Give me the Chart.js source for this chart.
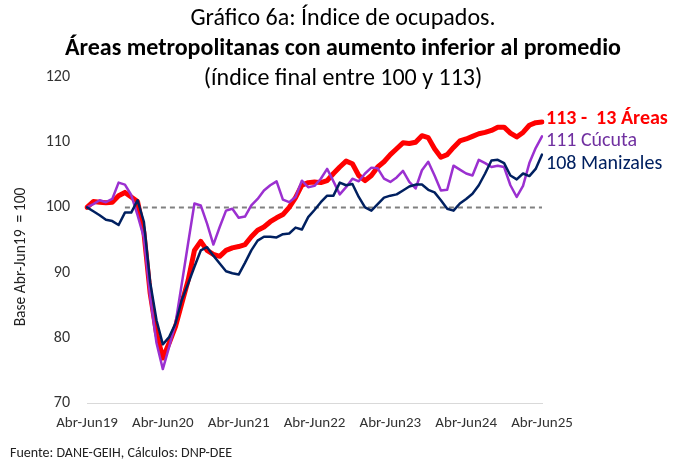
<!DOCTYPE html>
<html lang="es">
<head>
<meta charset="utf-8">
<title>Gráfico 6a: Índice de ocupados</title>
<script src="https://cdn.jsdelivr.net/npm/chart.js@4.4.1/dist/chart.umd.min.js"></script>
<style>
    html, body { margin: 0; padding: 0; background: #fff; }
    #wrap { position: relative; width: 674px; height: 464px; overflow: hidden;
            font-family: Carlito, Calibri, Lato, sans-serif; color: #000; }
    #chart { position: absolute; left: 0; top: 0; }
    .titulo { position: absolute; left: 0; width: 686px; text-align: center;
              font-size: 24px; line-height: 28px; white-space: nowrap; }
    .negrita { font-weight: bold; }
    #ejeY { position: absolute; left: 20px; top: 257px; width: 200px; margin-left: -100px;
            margin-top: -10px; line-height: 20px; text-align: center; font-size: 15.5px;
            color: #222; white-space: pre; transform: rotate(-90deg); }
    #fuente { position: absolute; left: 10px; top: 444px; font-size: 14px; line-height: 18px; color: #222; }
</style>
</head>
<body>
<div id="wrap">
    <canvas id="chart" width="674" height="464"></canvas>
    <div class="titulo" style="top:3px">Gráfico 6a: Índice de ocupados.</div>
    <div class="titulo negrita" style="top:33px">Áreas metropolitanas con aumento inferior al promedio</div>
    <div class="titulo" style="top:63px">(índice final entre 100 y 113)</div>
    <div id="ejeY">Base Abr-Jun19  = 100</div>
    <div id="fuente">Fuente: DANE-GEIH, Cálculos: DNP-DEE</div>
</div>
<script>
// Trimestres móviles Abr-Jun19 ... Abr-Jun25
const meses = ['Ene', 'Feb', 'Mar', 'Abr', 'May', 'Jun', 'Jul', 'Ago', 'Sep', 'Oct', 'Nov', 'Dic'];
const etiquetas = [];
for (let i = 0; i <= 72; i++) {
    const ini = 3 + i, fin = ini + 2;
    etiquetas.push(meses[ini % 12] + '-' + meses[fin % 12] + (19 + Math.floor(fin / 12)));
}
const ticksX = ['Abr-Jun19', 'Abr-Jun20', 'Abr-Jun21', 'Abr-Jun22', 'Abr-Jun23', 'Abr-Jun24', 'Abr-Jun25'];
const ticksY = [70, 80, 90, 100, 110, 120];

// Series (base Abr-Jun19 = 100)
const trece = [
    100, 100.9, 100.8, 100.7, 100.8, 101.8, 102.3, 101.6, 100.9, 96.2, 86.8, 80.7,
    76.9, 79.2, 81.7, 85.3, 88.8, 93.4, 94.8, 93.4, 92.8, 92.5, 93.4, 93.8,
    94.0, 94.3, 95.5, 96.5, 97.0, 97.8, 98.4, 98.9, 100.0, 101.5, 103.4, 103.8,
    103.9, 103.8, 104.1, 105.2, 106.2, 107.1, 106.7, 104.9, 104.1, 104.9, 106.2, 107.0,
    108.1, 109.0, 109.9, 109.8, 110.0, 111.0, 110.7, 109.0, 107.7, 108.1, 109.2, 110.2,
    110.5, 110.9, 111.3, 111.5, 111.8, 112.3, 112.3, 111.4, 110.8, 111.5, 112.6, 113.0,
    113.1
];
const cucuta = [
    100, 100.5, 101.1, 100.8, 101.3, 103.8, 103.5, 101.9, 98.8, 95.4, 86.2, 79.2,
    75.2, 78.6, 82.2, 88.3, 94.5, 100.6, 100.3, 97.5, 94.3, 97.0, 99.5, 99.8,
    98.4, 98.6, 100.3, 101.3, 102.6, 103.4, 104.0, 101.2, 100.8, 101.6, 104.1, 103.1,
    103.3, 104.4, 105.9, 104.0, 102.0, 103.1, 104.4, 104.0, 105.2, 106.1, 106.0, 104.4,
    103.9, 104.6, 105.6, 103.9, 102.9, 105.7, 107.0, 104.9, 102.6, 102.7, 106.4, 105.8,
    105.2, 104.9, 107.3, 106.8, 106.2, 106.4, 106.2, 103.4, 101.6, 103.3, 106.8, 109.1,
    110.9
];
const manizales = [
    100, 99.4, 98.8, 98.1, 97.9, 97.3, 99.2, 99.2, 101.1, 97.8, 88.5, 82.7,
    79.0, 80.1, 82.2, 85.8, 88.3, 90.9, 93.4, 93.9, 92.6, 91.4, 90.2, 89.9,
    89.7, 91.5, 93.4, 94.9, 95.5, 95.5, 95.4, 95.9, 96.0, 96.9, 96.6, 98.5,
    99.6, 100.8, 101.8, 101.8, 103.8, 103.4, 103.6, 101.6, 100.0, 99.5, 100.5, 101.5,
    101.8, 102.0, 102.6, 103.2, 103.5, 103.5, 102.7, 102.3, 101.1, 99.8, 99.5, 100.6,
    101.3, 102.1, 103.4, 105.2, 107.2, 107.3, 106.8, 104.9, 104.3, 105.2, 104.8, 105.9,
    108.1
];
const rotulos = ['108 Manizales', '111 Cúcuta', '113 -  13 Áreas'];
const lineaBase = { valor: 100, desde: 'Oct-Dic19', hasta: 'Abr-Jun25' };

const FUENTE = 'Carlito, Calibri, Lato, sans-serif';

// línea punteada de referencia, por debajo de las series
const referencia = {
    id: 'referencia',
    beforeDatasetsDraw(chart) {
        const { ctx, scales: { x, y } } = chart;
        const py = y.getPixelForValue(lineaBase.valor);
        ctx.save();
        ctx.strokeStyle = '#808080';
        ctx.lineWidth = 2;
        ctx.setLineDash([5, 4]);
        ctx.beginPath();
        ctx.moveTo(x.getPixelForValue(etiquetas.indexOf(lineaBase.desde)), py);
        ctx.lineTo(x.getPixelForValue(etiquetas.indexOf(lineaBase.hasta)), py);
        ctx.stroke();
        ctx.restore();
    }
};

// rótulos al final de cada serie
const rotulosFinales = {
    id: 'rotulosFinales',
    afterDatasetsDraw(chart) {
        const ctx = chart.ctx;
        chart.data.datasets.forEach((ds, i) => {
            const meta = chart.getDatasetMeta(i);
            const p = meta.data[meta.data.length - 1];
            ctx.save();
            ctx.font = ds.rotuloFuente;
            ctx.fillStyle = ds.rotuloColor;
            ctx.textBaseline = 'middle';
            ctx.fillText(ds.rotulo, p.x + 4, p.y + ds.rotuloDy);
            ctx.restore();
        });
    }
};

new Chart(document.getElementById('chart'), {
    type: 'line',
    data: {
        labels: etiquetas,
        datasets: [
            {
                label: rotulos[0], data: manizales,
                borderColor: '#002060', borderWidth: 2.5,
                rotulo: rotulos[0], rotuloColor: '#002060', rotuloDy: 9,
                rotuloFuente: '20px ' + FUENTE
            },
            {
                label: rotulos[1], data: cucuta,
                borderColor: '#9B30D0', borderWidth: 2.5,
                rotulo: rotulos[1], rotuloColor: '#7030A0', rotuloDy: 5,
                rotuloFuente: '20px ' + FUENTE
            },
            {
                label: rotulos[2], data: trece,
                borderColor: '#FF0000', borderWidth: 5,
                rotulo: rotulos[2], rotuloColor: '#FF0000', rotuloDy: -3,
                rotuloFuente: 'bold 20px ' + FUENTE
            }
        ]
    },
    options: {
        responsive: false,
        animation: false,
        layout: { padding: { left: 0, top: 77, right: 132, bottom: 21 } },
        elements: {
            point: { radius: 0 },
            line: { tension: 0, borderCapStyle: 'round', borderJoinStyle: 'round' }
        },
        plugins: {
            legend: { display: false },
            tooltip: { enabled: false }
        },
        scales: {
            x: {
                grid: { display: false, drawTicks: false },
                border: { display: true, color: '#d9d9d9', width: 1 },
                afterFit: (s) => { s.height = 40; },
                ticks: {
                    autoSkip: false, maxRotation: 0, minRotation: 0, padding: 11,
                    color: '#333', font: { family: FUENTE, size: 15 },
                    callback: function (v) {
                        const l = this.getLabelForValue(v);
                        return ticksX.includes(l) ? l : null;
                    }
                }
            },
            y: {
                min: 70, max: 120,
                grid: { display: false, drawTicks: false },
                border: { display: false },
                afterFit: (s) => { s.width = 87; },
                afterBuildTicks: (s) => { s.ticks = ticksY.map(v => ({ value: v })); },
                ticks: {
                    padding: 17, color: '#333', font: { family: FUENTE, size: 16 }
                }
            }
        }
    },
    plugins: [referencia, rotulosFinales]
});
</script>
</body>
</html>
